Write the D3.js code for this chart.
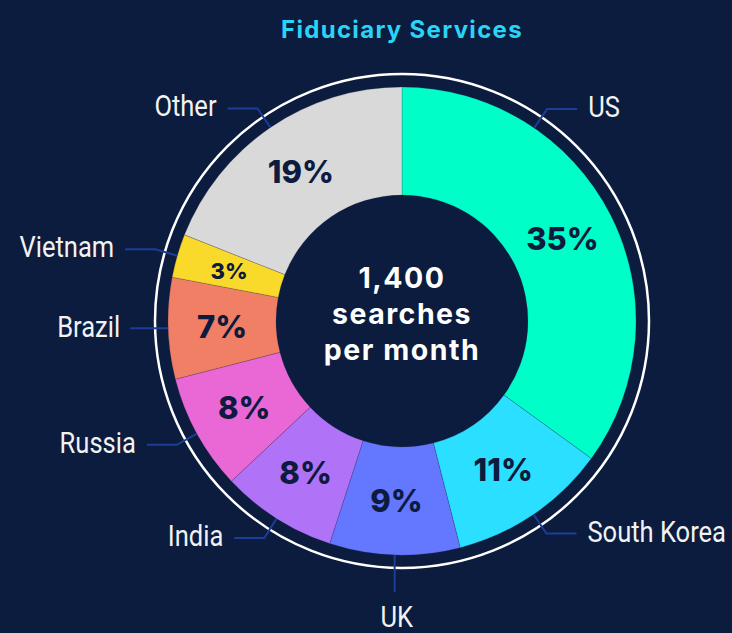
<!DOCTYPE html>
<html>
<head>
<meta charset="utf-8">
<script src="https://cdn.jsdelivr.net/npm/d3@7"></script>
<style>
  html, body { margin: 0; padding: 0; background: #0b1c3e; }
  svg { display: block; }
</style>
</head>
<body>
<svg id="chart" width="732" height="633"></svg>
<script>
// ---- data ----
const title = "Fiduciary Services";
const categories = ["US", "South Korea", "UK", "India", "Russia", "Brazil", "Vietnam", "Other"];
const shares = [35, 11, 9, 8, 8, 7, 3, 19];
const centerLines = ["1,400", "searches", "per month"];

// ---- style ----
const colors = ["#00ffc8", "#2adfff", "#6477ff", "#b072f6", "#e968d6", "#f07f66", "#f9da2b", "#d9d9d9"];
const leaderFraction = { "US": 0.273 }; // where along the slice the leader line attaches (default: middle)
const W = 732, H = 633;
const cx = 402, cy = 321;
const rInner = 126, rOuter = 234, rRing = 247, rElbow = 257, hLen = 30;
const bg = "#0b1c3e", ink = "#0d1b3e", leaderColor = "#1d3d96";
const labelScaleX = 0.88;

const svg = d3.select("#chart");
svg.append("rect").attr("width", W).attr("height", H).attr("fill", bg);

svg.append("text")
  .attr("x", cx).attr("y", 38)
  .attr("text-anchor", "middle")
  .attr("fill", "#2ad4f6")
  .style("font-family", "Inter, 'Open Sans', sans-serif")
  .style("font-weight", 700)
  .style("font-size", "24px")
  .style("letter-spacing", "1.3px")
  .text(title);

const data = categories.map((c, i) => ({ name: c, value: shares[i], color: colors[i] }));
const pie = d3.pie().sort(null).value(d => d.value);
const arcs = pie(data);
const arc = d3.arc().innerRadius(rInner).outerRadius(rOuter);

const g = svg.append("g").attr("transform", `translate(${cx},${cy})`);

g.selectAll("path.slice")
  .data(arcs)
  .join("path")
  .attr("class", "slice")
  .attr("d", arc)
  .attr("fill", d => d.data.color)
  .attr("stroke", "rgba(40,40,80,0.35)")
  .attr("stroke-width", 0.6);

g.append("circle")
  .attr("r", rRing)
  .attr("fill", "none")
  .attr("stroke", "#ffffff")
  .attr("stroke-width", 2.5);

// percentage labels
g.selectAll("text.pct")
  .data(arcs)
  .join("text")
  .attr("class", "pct")
  .attr("transform", d => `translate(${arc.centroid(d)})`)
  .attr("text-anchor", "middle")
  .attr("dy", "0.36em")
  .attr("fill", ink)
  .style("font-family", "Inter, 'Open Sans', sans-serif")
  .style("font-weight", 800)
  .style("font-size", d => d.data.value < 5 ? "22px" : "31px")
  .text(d => d.data.value + "%");

// center text
g.selectAll("text.center")
  .data(centerLines)
  .join("text")
  .attr("class", "center")
  .attr("x", 0)
  .attr("y", (d, i) => -33 + i * 36)
  .attr("text-anchor", "middle")
  .attr("fill", "#ffffff")
  .style("font-family", "Inter, 'Open Sans', sans-serif")
  .style("font-weight", 700)
  .style("font-size", "28.5px")
  .style("letter-spacing", "1.5px")
  .text(d => d);

// leader lines and category labels
const pt = (a, r) => [r * Math.sin(a), -r * Math.cos(a)];
arcs.forEach(d => {
  const f = leaderFraction[d.data.name] ?? 0.5;
  const a = d.startAngle + (d.endAngle - d.startAngle) * f;
  const p0 = pt(a, rOuter);
  let pts, tx, ty, anchor;
  if (Math.abs(Math.cos(a)) > 0.98) {
    // straight down (or up)
    const p1 = [p0[0], rElbow + 14];
    pts = [p0, p1];
    tx = p0[0] + 2; ty = p1[1] + 35; anchor = "middle";
  } else if (Math.abs(Math.cos(a)) < 0.1) {
    // straight sideways
    const side = Math.sin(a) >= 0 ? 1 : -1;
    const p1 = [p0[0] + side * (hLen + 8), p0[1]];
    pts = [p0, p1];
    tx = p1[0] + side * 10; ty = p1[1] + 9; anchor = side > 0 ? "start" : "end";
  } else {
    const p1 = pt(a, rElbow);
    const side = Math.sin(a) >= 0 ? 1 : -1;
    const p2 = [p1[0] + side * hLen, p1[1]];
    pts = [p0, p1, p2];
    tx = p2[0] + side * 11; ty = p2[1] + 8; anchor = side > 0 ? "start" : "end";
  }
  g.append("path")
    .attr("d", d3.line()(pts))
    .attr("fill", "none")
    .attr("stroke", leaderColor)
    .attr("stroke-width", 2);
  g.append("text")
    .attr("transform", `translate(${tx},${ty}) scale(${labelScaleX},1)`)
    .attr("text-anchor", anchor)
    .attr("fill", "#f2f2f2")
    .style("font-family", "Roboto, 'Liberation Sans', sans-serif")
    .style("font-size", "29px")
    .text(d.data.name);
});
</script>
</body>
</html>
